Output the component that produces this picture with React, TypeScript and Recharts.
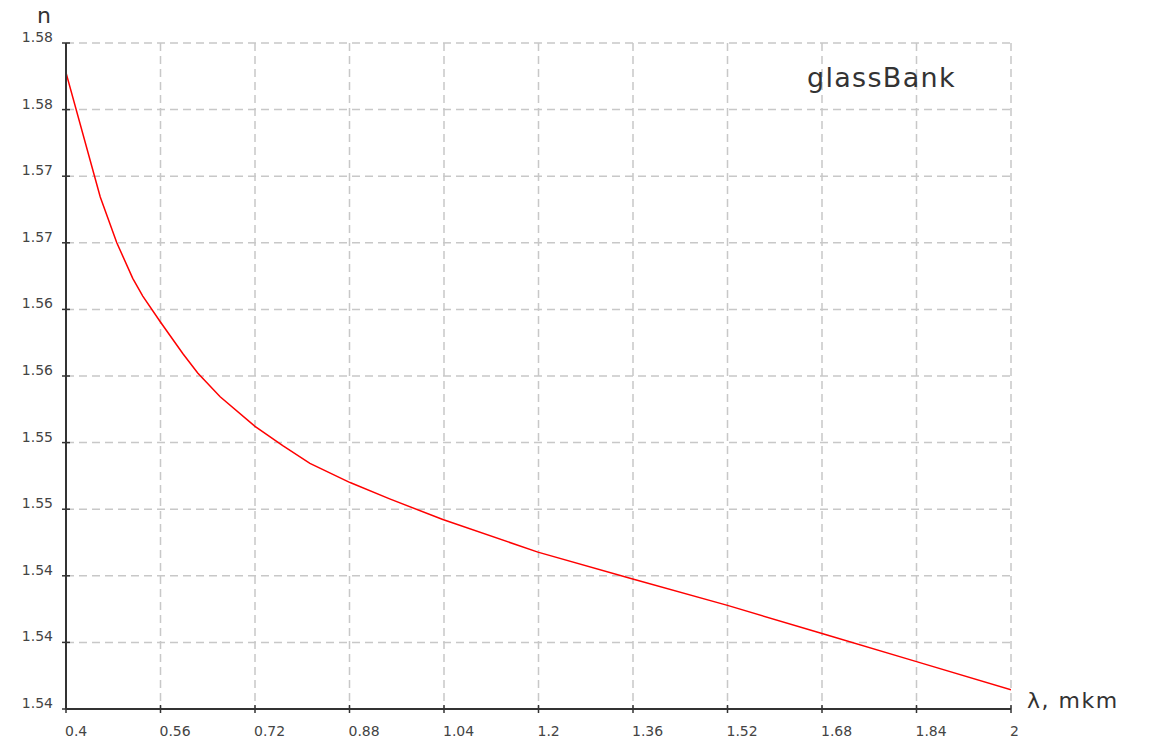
import React from "react"
import { LineChart, Line, XAxis, YAxis, CartesianGrid } from "recharts"

// wavelength, mkm
const lambda = [
  0.4, 0.458, 0.486, 0.513, 0.53, 0.559, 0.598, 0.623, 0.661, 0.72, 0.767, 0.813, 0.881, 0.948, 1.038, 1.199, 1.358,
  1.52, 1.68, 1.84, 2.0,
]
// refractive index
const nValues = [
  1.578, 1.5696, 1.5665, 1.5641, 1.5629, 1.5612, 1.559, 1.5577, 1.5561, 1.5541, 1.5528, 1.5516, 1.5503, 1.5492,
  1.5478, 1.5456, 1.5438, 1.542, 1.5401, 1.5382, 1.5363,
]

const xTicks = [0.4, 0.56, 0.72, 0.88, 1.04, 1.2, 1.36, 1.52, 1.68, 1.84, 2]
const yTicks = [1.535, 1.5395, 1.544, 1.5485, 1.553, 1.5575, 1.562, 1.5665, 1.571, 1.5755, 1.58]

const data = lambda.map((l, i) => ({ l, n: nValues[i] }))

const FONT = "'DejaVu Sans', Verdana, sans-serif"
const AXIS = "#333"

const fmtY = (v: number) => (Math.round(v * 100 + 1e-6) / 100).toFixed(2)
const fmtX = (v: number) => String(Math.round(v * 100) / 100)

const YTick = ({ x, y, payload }: any) => (
  <g>
    <line x1={x - 4} x2={x + 4} y1={y} y2={y} stroke={AXIS} strokeWidth={1.5} />
    <text x={x - 13} y={y - 1} textAnchor="end" fontSize={14} fontFamily={FONT} fill="#444">
      {fmtY(payload.value)}
    </text>
  </g>
)

const XTick = ({ x, y, payload }: any) => (
  <g>
    <line x1={x} x2={x} y1={y - 4} y2={y + 4} stroke={AXIS} strokeWidth={1.5} />
    <text x={x - 1} y={y + 27} textAnchor="start" fontSize={14} fontFamily={FONT} fill="#444">
      {fmtX(payload.value)}
    </text>
  </g>
)

export default function App() {
  return (
    <div style={{ position: "absolute", left: 0, top: 0, width: 1150, height: 740, background: "#fff" }}>
      <LineChart width={1150} height={740} data={data} margin={{ top: 43, right: 139, bottom: 0, left: 0 }}>
        <CartesianGrid stroke="#c8c8c8" strokeWidth={1.5} strokeDasharray="8 5" />
        <XAxis
          dataKey="l"
          type="number"
          domain={[0.4, 2]}
          ticks={xTicks}
          allowDataOverflow
          height={31}
          tickSize={0}
          tickMargin={0}
          tickLine={false}
          stroke={AXIS}
          strokeWidth={2}
          tick={<XTick />}
          interval={0}
        />
        <YAxis
          type="number"
          domain={[1.535, 1.58]}
          ticks={yTicks}
          allowDataOverflow
          width={66}
          tickSize={0}
          tickMargin={0}
          tickLine={false}
          stroke={AXIS}
          strokeWidth={2}
          tick={<YTick />}
          interval={0}
        />
        <Line type="linear" dataKey="n" stroke="#ff0000" strokeWidth={1.5} dot={false} isAnimationActive={false} />
      </LineChart>
      <svg width={1150} height={740} style={{ position: "absolute", left: 0, top: 0, pointerEvents: "none" }}>
        <text x={37} y={23} fontSize={22} fontFamily={FONT} fill="#333">
          n
        </text>
        <text x={1027} y={708} fontSize={22} fontFamily={FONT} fill="#333" letterSpacing={1.5}>
          λ, mkm
        </text>
        <text x={807} y={87} fontSize={27} fontFamily={FONT} fill="#333" letterSpacing={1.3}>
          glassBank
        </text>
      </svg>
    </div>
  )
}
